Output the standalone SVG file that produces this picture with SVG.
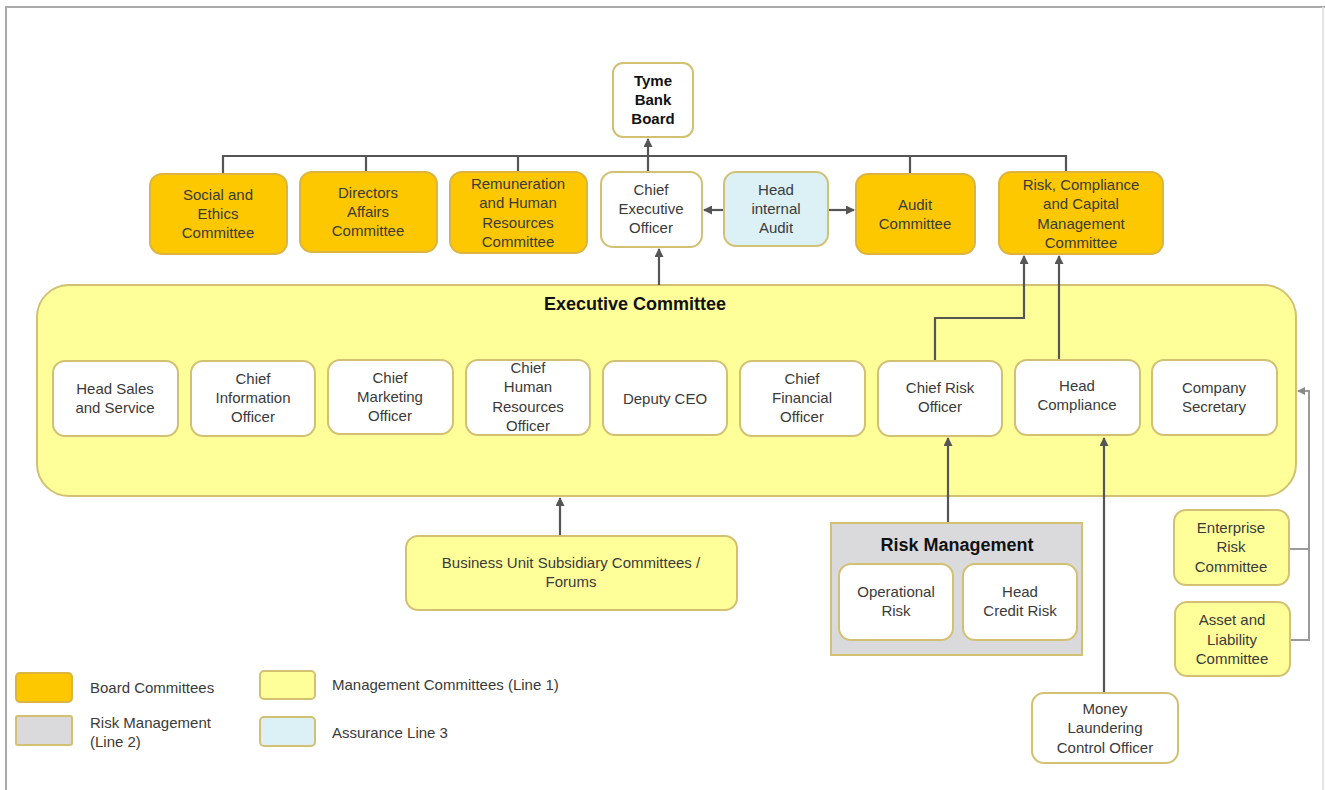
<svg xmlns="http://www.w3.org/2000/svg" width="1325" height="790" viewBox="0 0 1325 790">
<style>
text{font-family:"Liberation Sans",Arial,sans-serif;font-size:15px;fill:#3a3a3a;text-anchor:middle}
.b{font-weight:bold;fill:#111}
.t{font-size:18px;font-weight:bold;fill:#111}
.lg{text-anchor:start}
.box{stroke:#d2c173;stroke-width:2}
.org{fill:#fdc800;stroke:#dcb440}
.yel{fill:#ffff9a}
.wht{fill:#ffffff}
.blu{fill:#dcf1f6}
.gry{fill:#dadadd}
.ln{fill:none;stroke:#555;stroke-width:2.2}
.ln2{fill:none;stroke:#9a9a9a;stroke-width:2}
</style>
<defs>
<marker id="ah" markerWidth="9" markerHeight="9" refX="8" refY="4.5" orient="auto" markerUnits="userSpaceOnUse" viewBox="0 0 9 9"><path d="M0,0 L9,4.5 L0,9 z" fill="#555"/></marker>
<marker id="ah2" markerWidth="8" markerHeight="8" refX="7" refY="4" orient="auto" markerUnits="userSpaceOnUse" viewBox="0 0 8 8"><path d="M0,0 L8,4 L0,8 z" fill="#8a8a8a"/></marker>
</defs>
<rect x="0" y="0" width="1325" height="790" fill="#fff"/>
<path d="M6,790 V7 H1325" fill="none" stroke="#aaa" stroke-width="2"/>
<line x1="1323" y1="7" x2="1323" y2="790" stroke="#e4e4e4" stroke-width="2"/>

<g id="executive-committee">
<rect class="box yel" x="37" y="285" width="1259" height="211" rx="32"/>
<text class="t" x="635" y="310">Executive Committee</text>
</g>

<g id="connectors">
<path class="ln" d="M223,174 V156 H1066 V172"/>
<path class="ln" d="M366,156 V172 M518,156 V172 M910,156 V174"/>
<path class="ln" d="M648,172 V139" marker-end="url(#ah)"/>
<path class="ln" d="M724,210 H704" marker-end="url(#ah)"/>
<path class="ln" d="M828,210 H854" marker-end="url(#ah)"/>
<path class="ln" d="M659,285 V249" marker-end="url(#ah)"/>
<path class="ln" d="M935,361 V318 H1024 V256" marker-end="url(#ah)"/>
<path class="ln" d="M1059,361 V256" marker-end="url(#ah)"/>
<path class="ln" d="M948,523 V438" marker-end="url(#ah)"/>
<path class="ln" d="M1104,693 V438" marker-end="url(#ah)"/>
<path class="ln" d="M560,536 V498" marker-end="url(#ah)"/>
<path class="ln2" d="M1289,549 H1309 M1290,640 H1309 V391 H1298" marker-end="url(#ah2)"/>
</g>

<g id="tyme-bank-board"><rect class="box wht" x="613" y="63" width="80" height="74" rx="10"/>
<text class="b" x="653" y="86">Tyme</text><text class="b" x="653" y="105">Bank</text><text class="b" x="653" y="124">Board</text></g>

<g id="social-ethics"><rect class="box org" x="150" y="174" width="137" height="80" rx="12"/>
<text x="218" y="200">Social and</text><text x="218" y="219">Ethics</text><text x="218" y="238">Committee</text></g>
<g id="directors-affairs"><rect class="box org" x="300" y="172" width="137" height="80" rx="12"/>
<text x="368" y="198">Directors</text><text x="368" y="217">Affairs</text><text x="368" y="236">Committee</text></g>
<g id="remuneration"><rect class="box org" x="450" y="172" width="137" height="81" rx="12"/>
<text x="518" y="189">Remuneration</text><text x="518" y="208">and Human</text><text x="518" y="228">Resources</text><text x="518" y="247">Committee</text></g>
<g id="ceo"><rect class="box wht" x="601" y="172" width="101" height="75" rx="12"/>
<text x="651" y="195">Chief</text><text x="651" y="214">Executive</text><text x="651" y="233">Officer</text></g>
<g id="head-internal-audit"><rect class="box blu" x="724" y="172" width="104" height="74" rx="12"/>
<text x="776" y="195">Head</text><text x="776" y="214">internal</text><text x="776" y="233">Audit</text></g>
<g id="audit-committee"><rect class="box org" x="856" y="174" width="119" height="80" rx="12"/>
<text x="915" y="210">Audit</text><text x="915" y="229">Committee</text></g>
<g id="risk-compliance-capital"><rect class="box org" x="999" y="172" width="164" height="82" rx="12"/>
<text x="1081" y="190">Risk, Compliance</text><text x="1081" y="209">and Capital</text><text x="1081" y="229">Management</text><text x="1081" y="248">Committee</text></g>

<g id="head-sales"><rect class="box wht" x="53" y="361" width="125" height="75" rx="12"/>
<text x="115" y="394">Head Sales</text><text x="115" y="413">and Service</text></g>
<g id="cio"><rect class="box wht" x="191" y="361" width="124" height="75" rx="12"/>
<text x="253" y="384">Chief</text><text x="253" y="403">Information</text><text x="253" y="422">Officer</text></g>
<g id="cmo"><rect class="box wht" x="328" y="360" width="125" height="74" rx="12"/>
<text x="390" y="383">Chief</text><text x="390" y="402">Marketing</text><text x="390" y="421">Officer</text></g>
<g id="chro"><rect class="box wht" x="466" y="360" width="124" height="75" rx="12"/>
<text x="528" y="373">Chief</text><text x="528" y="392">Human</text><text x="528" y="412">Resources</text><text x="528" y="431">Officer</text></g>
<g id="deputy-ceo"><rect class="box wht" x="603" y="361" width="124" height="74" rx="12"/>
<text x="665" y="404">Deputy CEO</text></g>
<g id="cfo"><rect class="box wht" x="740" y="361" width="125" height="75" rx="12"/>
<text x="802" y="384">Chief</text><text x="802" y="403">Financial</text><text x="802" y="422">Officer</text></g>
<g id="cro"><rect class="box wht" x="878" y="361" width="124" height="75" rx="12"/>
<text x="940" y="393">Chief Risk</text><text x="940" y="412">Officer</text></g>
<g id="head-compliance"><rect class="box wht" x="1015" y="360" width="125" height="75" rx="12"/>
<text x="1077" y="391">Head</text><text x="1077" y="410">Compliance</text></g>
<g id="company-secretary"><rect class="box wht" x="1152" y="360" width="125" height="75" rx="12"/>
<text x="1214" y="393">Company</text><text x="1214" y="412">Secretary</text></g>

<g id="business-unit"><rect class="box yel" x="406" y="536" width="331" height="74" rx="12"/>
<text x="571" y="568">Business Unit Subsidiary Committees /</text><text x="571" y="587">Forums</text></g>

<g id="risk-management"><rect class="box gry" x="831" y="523" width="251" height="132"/>
<text class="t" x="957" y="551">Risk Management</text></g>
<g id="operational-risk"><rect class="box wht" x="839" y="564" width="114" height="76" rx="12"/>
<text x="896" y="597">Operational</text><text x="896" y="616">Risk</text></g>
<g id="head-credit-risk"><rect class="box wht" x="963" y="564" width="114" height="76" rx="12"/>
<text x="1020" y="597">Head</text><text x="1020" y="616">Credit Risk</text></g>

<g id="mlco"><rect class="box wht" x="1032" y="693" width="146" height="70" rx="12"/>
<text x="1105" y="714">Money</text><text x="1105" y="733">Laundering</text><text x="1105" y="753">Control Officer</text></g>

<g id="enterprise-risk"><rect class="box yel" x="1174" y="510" width="115" height="75" rx="12"/>
<text x="1231" y="533">Enterprise</text><text x="1231" y="552">Risk</text><text x="1231" y="572">Committee</text></g>
<g id="alco"><rect class="box yel" x="1175" y="602" width="115" height="74" rx="12"/>
<text x="1232" y="625">Asset and</text><text x="1232" y="645">Liability</text><text x="1232" y="664">Committee</text></g>

<g id="legend">
<rect class="box org" x="16" y="673" width="56" height="29" rx="4"/>
<text class="lg" x="90" y="693">Board Committees</text>
<rect class="box gry" x="16" y="716" width="56" height="29" rx="2"/>
<text class="lg" x="90" y="728">Risk Management</text><text class="lg" x="90" y="747">(Line 2)</text>
<rect class="box yel" x="260" y="671" width="55" height="28" rx="4"/>
<text class="lg" x="332" y="690">Management Committees (Line 1)</text>
<rect class="box blu" x="260" y="717" width="55" height="29" rx="4"/>
<text class="lg" x="332" y="738">Assurance Line 3</text>
</g>
</svg>
